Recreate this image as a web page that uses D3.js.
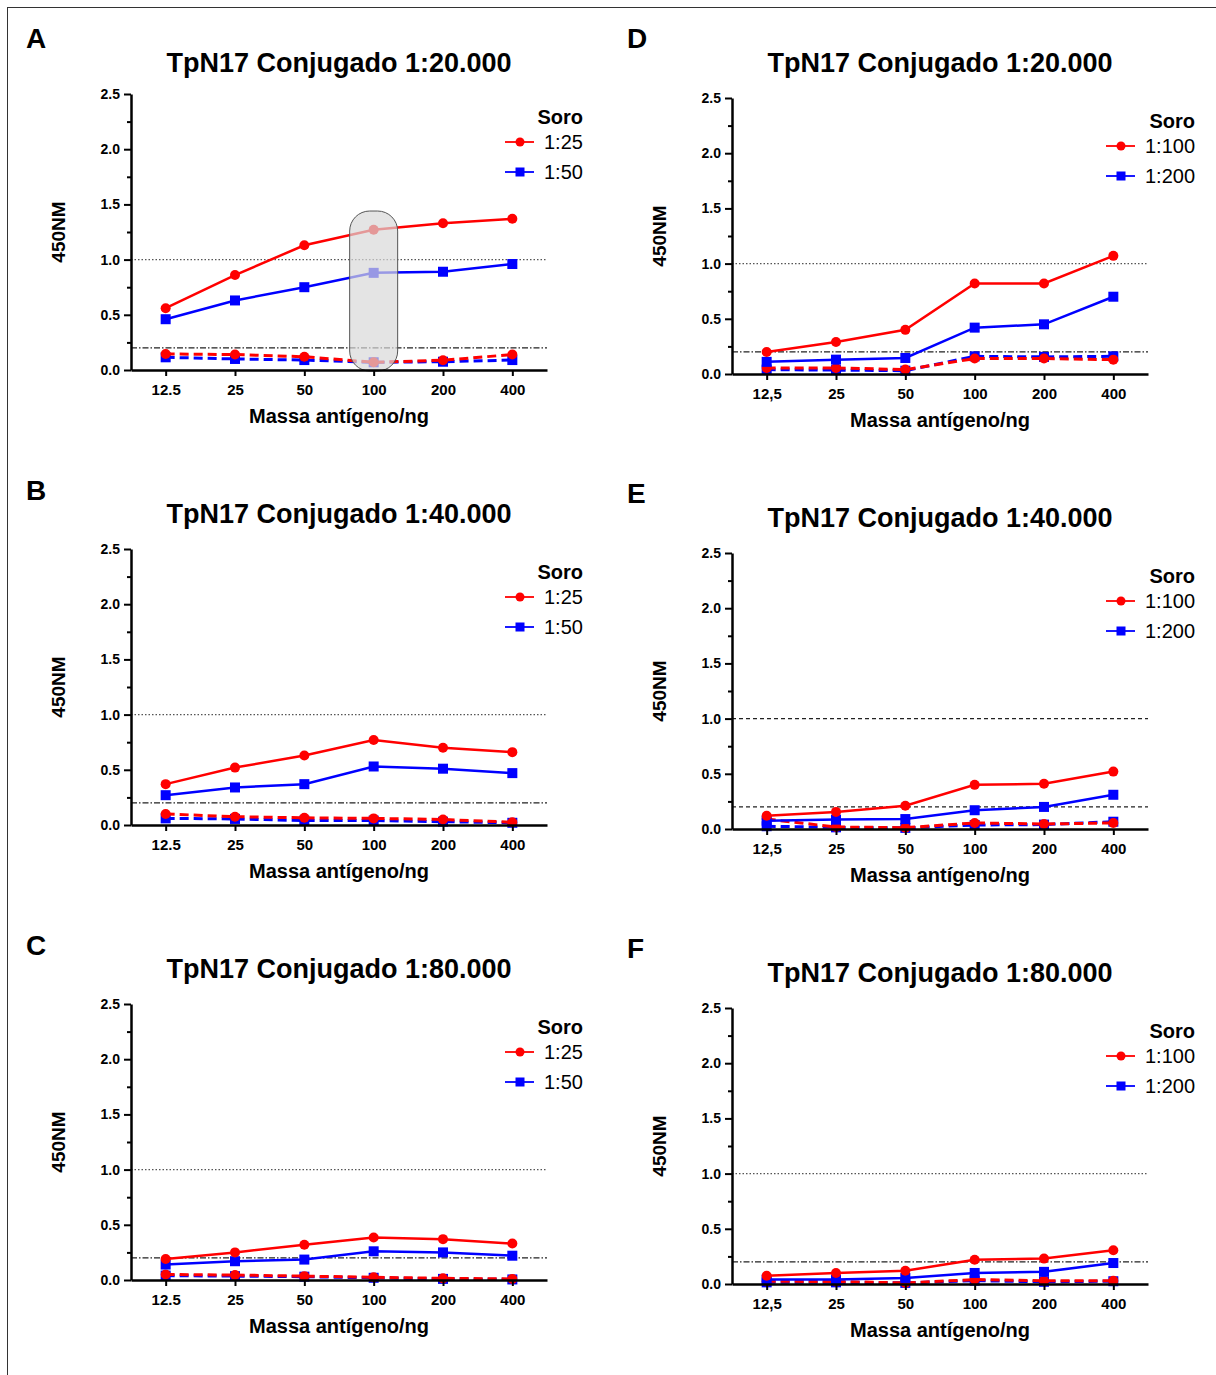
<!DOCTYPE html>
<html>
<head>
<meta charset="utf-8">
<script src="https://cdn.jsdelivr.net/npm/d3@7"></script>
<style>
  body { margin: 0; background: #fff; }
  svg { display: block; font-family: "Liberation Sans", Arial, sans-serif; }
</style>
</head>
<body>
<div id="chart"></div>
<script>
// ---- data ----
var massLeft = ["12.5", "25", "50", "100", "200", "400"];
var massRight = ["12,5", "25", "50", "100", "200", "400"];
var soroLeft = ["1:25", "1:50"];
var soroRight = ["1:100", "1:200"];
var titles = ["TpN17 Conjugado 1:20.000", "TpN17 Conjugado 1:40.000", "TpN17 Conjugado 1:80.000"];
var letters = ["A", "B", "C", "D", "E", "F"];
var yTicks = [0, 0.5, 1.0, 1.5, 2.0, 2.5];
var refHigh = 1.0;
var refLow = 0.2;

// A  (soro 1:25 / 1:50, conjugado 1:20.000)
var aRed = [0.56, 0.86, 1.13, 1.27, 1.33, 1.37];
var aBlue = [0.46, 0.63, 0.75, 0.88, 0.89, 0.96];
var aRedDash = [0.145, 0.14, 0.12, 0.07, 0.088, 0.14];
var aBlueDash = [0.115, 0.10, 0.09, 0.07, 0.075, 0.09];
// B
var bRed = [0.37, 0.52, 0.63, 0.77, 0.70, 0.66];
var bBlue = [0.27, 0.34, 0.37, 0.53, 0.51, 0.47];
var bRedDash = [0.10, 0.075, 0.065, 0.06, 0.05, 0.025];
var bBlueDash = [0.06, 0.055, 0.04, 0.04, 0.03, 0.02];
// C
var cRed = [0.19, 0.25, 0.32, 0.385, 0.37, 0.33];
var cBlue = [0.14, 0.17, 0.185, 0.26, 0.25, 0.22];
var cRedDash = [0.05, 0.045, 0.035, 0.025, 0.015, 0.01];
var cBlueDash = [0.04, 0.035, 0.03, 0.02, 0.01, 0.005];
// D  (soro 1:100 / 1:200)
var dRed = [0.20, 0.29, 0.40, 0.82, 0.82, 1.07];
var dBlue = [0.11, 0.13, 0.145, 0.42, 0.45, 0.70];
var dRedDash = [0.055, 0.055, 0.04, 0.14, 0.14, 0.13];
var dBlueDash = [0.04, 0.035, 0.03, 0.16, 0.155, 0.16];
// E
var eRed = [0.12, 0.155, 0.21, 0.40, 0.41, 0.52];
var eBlue = [0.075, 0.085, 0.09, 0.17, 0.20, 0.31];
var eRedDash = [0.09, 0.018, 0.012, 0.055, 0.045, 0.055];
var eBlueDash = [0.025, 0.015, 0.01, 0.036, 0.04, 0.066];
// F
var fRed = [0.075, 0.10, 0.12, 0.22, 0.23, 0.305];
var fBlue = [0.04, 0.04, 0.055, 0.10, 0.11, 0.19];
var fRedDash = [0.025, 0.022, 0.01, 0.04, 0.03, 0.03];
var fBlueDash = [0.015, 0.015, 0.01, 0.03, 0.02, 0.025];

// ---- layout ----
var W = 1216, H = 1375;
var RED = "#ff0000", BLUE = "#0000ff";

var panels = [
  { letter: 0, title: 0, x0: 131, y0: 94, titleY: 72, letterY: 48, cats: massLeft, legend: soroLeft,
    red: aRed, blue: aBlue, redDash: aRedDash, blueDash: aBlueDash, highlight: "100", refStyle: "normal" },
  { letter: 1, title: 1, x0: 131, y0: 549, titleY: 523, letterY: 500, cats: massLeft, legend: soroLeft,
    red: bRed, blue: bBlue, redDash: bRedDash, blueDash: bBlueDash, refStyle: "normal" },
  { letter: 2, title: 2, x0: 131, y0: 1004, titleY: 978, letterY: 955, cats: massLeft, legend: soroLeft,
    red: cRed, blue: cBlue, redDash: cRedDash, blueDash: cBlueDash, refStyle: "normal" },
  { letter: 3, title: 0, x0: 732, y0: 98, titleY: 72, letterY: 48, cats: massRight, legend: soroRight,
    red: dRed, blue: dBlue, redDash: dRedDash, blueDash: dBlueDash, refStyle: "normal" },
  { letter: 4, title: 1, x0: 732, y0: 553, titleY: 527, letterY: 503, cats: massRight, legend: soroRight,
    red: eRed, blue: eBlue, redDash: eRedDash, blueDash: eBlueDash, refStyle: "dashed" },
  { letter: 5, title: 2, x0: 732, y0: 1008, titleY: 982, letterY: 958, cats: massRight, legend: soroRight,
    red: fRed, blue: fBlue, redDash: fRedDash, blueDash: fBlueDash, refStyle: "normal" }
];
var plotW = 416, plotH = 276;

var svg = d3.select("#chart").append("svg")
  .attr("width", W)
  .attr("height", H);

svg.append("rect").attr("width", W).attr("height", H).attr("fill", "#fff");

// thin frame round the figure
svg.append("line").attr("x1", 7).attr("x2", W).attr("y1", 7.5).attr("y2", 7.5)
  .attr("stroke", "#333").attr("stroke-width", 1);
svg.append("line").attr("x1", 7.5).attr("x2", 7.5).attr("y1", 7).attr("y2", H)
  .attr("stroke", "#333").attr("stroke-width", 1);

panels.forEach(function (p) {
  var g = svg.append("g").attr("transform", "translate(" + p.x0 + "," + p.y0 + ")");

  var x = d3.scalePoint().domain(p.cats).range([0, plotW]).padding(0.5);
  var y = d3.scaleLinear().domain([0, 2.5]).range([plotH, 0]);

  // panel letter
  svg.append("text")
    .attr("x", p.x0 - 105)
    .attr("y", p.letterY)
    .attr("font-size", 28)
    .attr("font-weight", "bold")
    .text(letters[p.letter]);

  // title
  svg.append("text")
    .attr("x", p.x0 + plotW / 2)
    .attr("y", p.titleY)
    .attr("text-anchor", "middle")
    .attr("font-size", 27)
    .attr("font-weight", "bold")
    .text(titles[p.title]);

  // reference lines
  var hiDash = p.refStyle === "dashed" ? "4,3" : "1.5,2";
  var loDash = p.refStyle === "dashed" ? "4,3" : "6,2,1.5,2";
  g.append("line")
    .attr("x1", 0).attr("x2", plotW)
    .attr("y1", y(refHigh)).attr("y2", y(refHigh))
    .attr("stroke", p.refStyle === "dashed" ? "#222" : "#555")
    .attr("stroke-width", 1.2)
    .attr("stroke-dasharray", hiDash);
  g.append("line")
    .attr("x1", 0).attr("x2", plotW)
    .attr("y1", y(refLow)).attr("y2", y(refLow))
    .attr("stroke", "#222")
    .attr("stroke-width", 1.2)
    .attr("stroke-dasharray", loDash);

  // series
  var series = [
    { vals: p.blueDash, color: BLUE, dash: "9,5", shape: "square" },
    { vals: p.redDash, color: RED, dash: "9,5", shape: "circle" },
    { vals: p.blue, color: BLUE, dash: null, shape: "square" },
    { vals: p.red, color: RED, dash: null, shape: "circle" }
  ];
  var line = d3.line()
    .x(function (d, i) { return x(p.cats[i]); })
    .y(function (d) { return y(d); });

  series.forEach(function (s) {
    g.append("path")
      .datum(s.vals)
      .attr("d", line)
      .attr("fill", "none")
      .attr("stroke", s.color)
      .attr("stroke-width", s.dash ? 3 : 2.5)
      .attr("stroke-dasharray", s.dash);
    if (s.shape === "circle") {
      g.selectAll(null).data(s.vals).enter().append("circle")
        .attr("cx", function (d, i) { return x(p.cats[i]); })
        .attr("cy", function (d) { return y(d); })
        .attr("r", 5)
        .attr("fill", s.color);
    } else {
      g.selectAll(null).data(s.vals).enter().append("rect")
        .attr("x", function (d, i) { return x(p.cats[i]) - 5; })
        .attr("y", function (d) { return y(d) - 5; })
        .attr("width", 10)
        .attr("height", 10)
        .attr("fill", s.color);
    }
  });

  // highlighted column (only in A)
  if (p.highlight) {
    g.append("rect")
      .attr("x", x(p.highlight) - 24)
      .attr("y", y(1.44))
      .attr("width", 48)
      .attr("height", y(0) - y(1.44) + 1)
      .attr("rx", 20)
      .attr("ry", 20)
      .attr("fill", "#d8d8d8")
      .attr("fill-opacity", 0.7)
      .attr("stroke", "#555")
      .attr("stroke-width", 1);
  }

  // axes
  var yMinor = g.append("g")
    .call(d3.axisLeft(y).tickValues([0.25, 0.75, 1.25, 1.75, 2.25]).tickSize(4).tickFormat(""));
  yMinor.select(".domain").remove();
  yMinor.selectAll("line").attr("stroke-width", 2);

  var yAx = g.append("g")
    .call(d3.axisLeft(y).tickValues(yTicks).tickSize(7).tickSizeOuter(0).tickPadding(4)
      .tickFormat(d3.format(".1f")));
  yAx.select(".domain").attr("stroke-width", 2.5);
  yAx.selectAll("line").attr("stroke-width", 2);
  yAx.selectAll("text")
    .attr("font-size", 14)
    .attr("font-weight", "bold")
    .attr("font-family", "Liberation Sans, Arial, sans-serif");

  var xAx = g.append("g")
    .attr("transform", "translate(0," + plotH + ")")
    .call(d3.axisBottom(x).tickSize(6).tickSizeOuter(0).tickPadding(8));
  xAx.select(".domain").attr("stroke-width", 2.5);
  xAx.selectAll("line").attr("stroke-width", 2);
  xAx.selectAll("text")
    .attr("font-size", 15)
    .attr("font-weight", "bold")
    .attr("font-family", "Liberation Sans, Arial, sans-serif");

  // axis titles
  g.append("text")
    .attr("x", plotW / 2)
    .attr("y", plotH + 53)
    .attr("text-anchor", "middle")
    .attr("font-size", 20)
    .attr("font-weight", "bold")
    .text("Massa antígeno/ng");

  g.append("text")
    .attr("transform", "translate(-66," + (plotH / 2) + ") rotate(-90)")
    .attr("text-anchor", "middle")
    .attr("font-size", 19)
    .attr("font-weight", "bold")
    .text("450NM");

  // legend
  var tx = plotW - 3;
  var leg = g.append("g");
  var items = p.legend.map(function (lab, i) {
    return { label: lab, color: i === 0 ? RED : BLUE, shape: i === 0 ? "circle" : "square" };
  });
  var maxW = 0;
  items.forEach(function (it, i) {
    var yy = 55 + i * 30;
    var t = leg.append("text")
      .attr("x", tx)
      .attr("y", yy)
      .attr("font-size", 20)
      .text(it.label);
    maxW = Math.max(maxW, t.node().getComputedTextLength());
    leg.append("line")
      .attr("x1", tx - 39).attr("x2", tx - 10)
      .attr("y1", yy - 7).attr("y2", yy - 7)
      .attr("stroke", it.color)
      .attr("stroke-width", 1.8);
    if (it.shape === "circle") {
      leg.append("circle").attr("cx", tx - 24).attr("cy", yy - 7).attr("r", 4.5).attr("fill", it.color);
    } else {
      leg.append("rect").attr("x", tx - 28.5).attr("y", yy - 11.5).attr("width", 9).attr("height", 9)
        .attr("fill", it.color);
    }
  });
  leg.append("text")
    .attr("x", tx + maxW)
    .attr("y", 30)
    .attr("text-anchor", "end")
    .attr("font-size", 20)
    .attr("font-weight", "bold")
    .text("Soro");
});
</script>
</body>
</html>
